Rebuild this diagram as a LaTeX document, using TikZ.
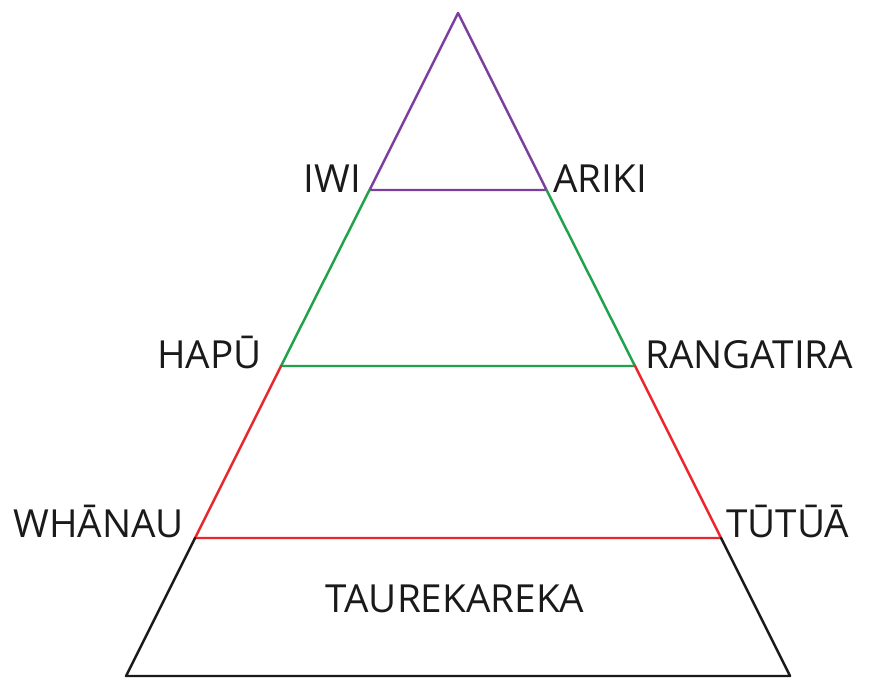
\documentclass[tikz,border=0pt]{standalone}
\usepackage{fontspec}
\setmainfont{Open Sans}
\usepackage{tikz}
\usetikzlibrary{positioning}
\definecolor{iwicol}{HTML}{7D3F9E}
\definecolor{hapucol}{HTML}{1EA24A}
\definecolor{whanaucol}{HTML}{E8262B}
\definecolor{ink}{HTML}{1A1A1A}
\tikzset{
  tier/.style ={line width=2.1pt, line cap=round, line join=round, draw=#1},
  lbl/.style  ={font=\fontsize{33}{38}\selectfont, text=ink, inner sep=0pt},
}

\begin{document}
\begin{tikzpicture}[x=0.03cm, y=-0.03cm]
\useasboundingbox (0,0) rectangle (871,680);
% corners of the pyramid
\coordinate (apex) at (458,13);
\coordinate (l1) at (369.5,190);
\coordinate (r1) at (546.5,190);
\coordinate (l2) at (281,366);
\coordinate (r2) at (635,366);
\coordinate (l3) at (195,538);
\coordinate (r3) at (721,538);
\coordinate (bl) at (126,676);
\coordinate (br) at (790,676);
% tiers, top down
\draw[tier=iwicol] (l1) -- (apex) -- (r1) -- cycle;
\draw[tier=hapucol] (l1) -- (l2) -- (r2) -- (r1);
\draw[tier=whanaucol] (l2) -- (l3) -- (r3) -- (r2);
\draw[tier=ink] (l3) -- (bl) -- (br) -- (r3);
% labels
\node[lbl, anchor=base east] (iwi) at (361,193) {IWI};
\node[lbl, anchor=base west] (ariki) at (553,193) {ARIKI};
\node[lbl, anchor=base east] (hapu) at (262,368) {HAPŪ};
\node[lbl, anchor=base west] (rangatira) at (645,368) {RANGATIRA};
\node[lbl, anchor=base east] (whanau) at (184,537) {WHĀNAU};
\node[lbl, anchor=base west] (tutua) at (726,537) {TŪTŪĀ};
\node[lbl, anchor=base] (taurekareka) at (455,612) {TAUREKAREKA};
\end{tikzpicture}
\end{document}
